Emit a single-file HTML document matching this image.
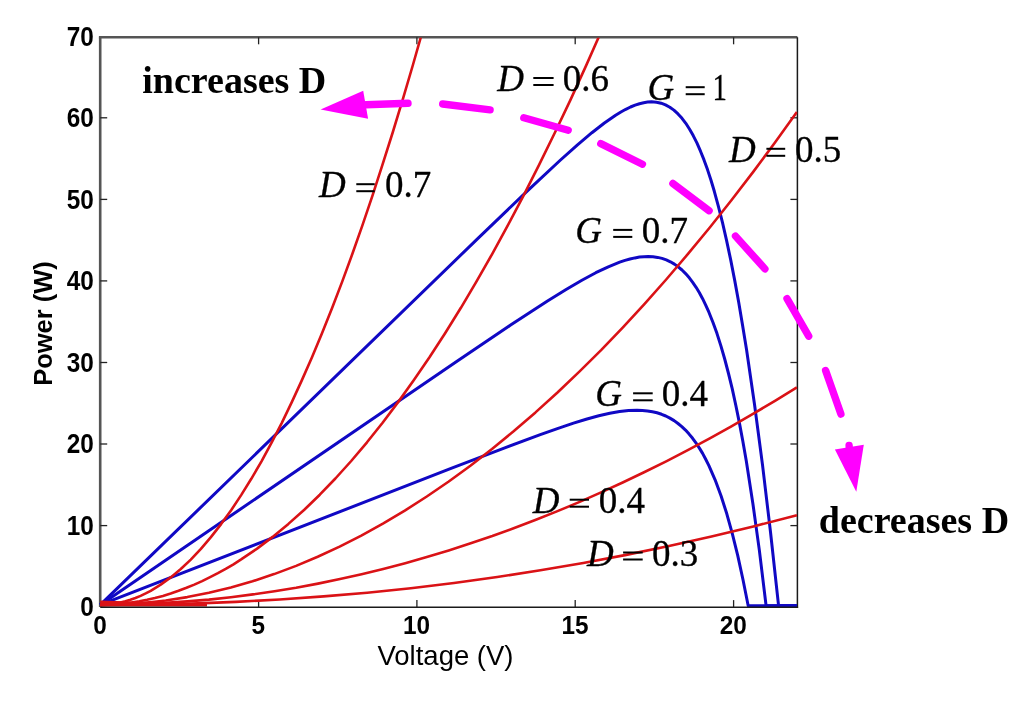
<!DOCTYPE html>
<html><head><meta charset="utf-8"><style>
html,body{margin:0;padding:0;background:#fff;}
svg{display:block;will-change:transform;}
</style></head><body>
<svg width="1024" height="704" viewBox="0 0 1024 704">
<rect width="1024" height="704" fill="#fff"/>
<line x1="100.2" y1="37.3" x2="100.2" y2="607.1" stroke="#555" stroke-width="2.6"/>
<line x1="98.9" y1="37.3" x2="797.4" y2="37.3" stroke="#555" stroke-width="2.4"/>
<line x1="797.4" y1="37.3" x2="797.4" y2="607.9" stroke="#1a1a1a" stroke-width="1.5"/>
<line x1="258.6" y1="607.1" x2="258.6" y2="600.1" stroke="#222" stroke-width="1.3"/>
<line x1="258.6" y1="37.3" x2="258.6" y2="44.3" stroke="#222" stroke-width="1.3"/>
<line x1="416.9" y1="607.1" x2="416.9" y2="600.1" stroke="#222" stroke-width="1.3"/>
<line x1="416.9" y1="37.3" x2="416.9" y2="44.3" stroke="#222" stroke-width="1.3"/>
<line x1="575.2" y1="607.1" x2="575.2" y2="600.1" stroke="#222" stroke-width="1.3"/>
<line x1="575.2" y1="37.3" x2="575.2" y2="44.3" stroke="#222" stroke-width="1.3"/>
<line x1="733.6" y1="607.1" x2="733.6" y2="600.1" stroke="#222" stroke-width="1.3"/>
<line x1="733.6" y1="37.3" x2="733.6" y2="44.3" stroke="#222" stroke-width="1.3"/>
<line x1="100.2" y1="525.6" x2="107.2" y2="525.6" stroke="#222" stroke-width="1.3"/>
<line x1="797.4" y1="525.6" x2="790.4" y2="525.6" stroke="#222" stroke-width="1.3"/>
<line x1="100.2" y1="444.0" x2="107.2" y2="444.0" stroke="#222" stroke-width="1.3"/>
<line x1="797.4" y1="444.0" x2="790.4" y2="444.0" stroke="#222" stroke-width="1.3"/>
<line x1="100.2" y1="362.5" x2="107.2" y2="362.5" stroke="#222" stroke-width="1.3"/>
<line x1="797.4" y1="362.5" x2="790.4" y2="362.5" stroke="#222" stroke-width="1.3"/>
<line x1="100.2" y1="280.9" x2="107.2" y2="280.9" stroke="#222" stroke-width="1.3"/>
<line x1="797.4" y1="280.9" x2="790.4" y2="280.9" stroke="#222" stroke-width="1.3"/>
<line x1="100.2" y1="199.4" x2="107.2" y2="199.4" stroke="#222" stroke-width="1.3"/>
<line x1="797.4" y1="199.4" x2="790.4" y2="199.4" stroke="#222" stroke-width="1.3"/>
<line x1="100.2" y1="117.8" x2="107.2" y2="117.8" stroke="#222" stroke-width="1.3"/>
<line x1="797.4" y1="117.8" x2="790.4" y2="117.8" stroke="#222" stroke-width="1.3"/>
<text transform="translate(93.8,616.3) scale(0.955,1.065)" text-anchor="end" font-family="Liberation Sans" font-weight="bold" font-size="25.5">0</text>
<text transform="translate(93.8,534.8) scale(0.955,1.065)" text-anchor="end" font-family="Liberation Sans" font-weight="bold" font-size="25.5">10</text>
<text transform="translate(93.8,453.2) scale(0.955,1.065)" text-anchor="end" font-family="Liberation Sans" font-weight="bold" font-size="25.5">20</text>
<text transform="translate(93.8,371.7) scale(0.955,1.065)" text-anchor="end" font-family="Liberation Sans" font-weight="bold" font-size="25.5">30</text>
<text transform="translate(93.8,290.1) scale(0.955,1.065)" text-anchor="end" font-family="Liberation Sans" font-weight="bold" font-size="25.5">40</text>
<text transform="translate(93.8,208.6) scale(0.955,1.065)" text-anchor="end" font-family="Liberation Sans" font-weight="bold" font-size="25.5">50</text>
<text transform="translate(93.8,127.0) scale(0.955,1.065)" text-anchor="end" font-family="Liberation Sans" font-weight="bold" font-size="25.5">60</text>
<text transform="translate(93.8,45.5) scale(0.955,1.065)" text-anchor="end" font-family="Liberation Sans" font-weight="bold" font-size="25.5">70</text>
<text transform="translate(99.9,634.2) scale(0.955,1.04)" text-anchor="middle" font-family="Liberation Sans" font-weight="bold" font-size="25.5">0</text>
<text transform="translate(258.2,634.2) scale(0.955,1.04)" text-anchor="middle" font-family="Liberation Sans" font-weight="bold" font-size="25.5">5</text>
<text transform="translate(416.6,634.2) scale(0.955,1.04)" text-anchor="middle" font-family="Liberation Sans" font-weight="bold" font-size="25.5">10</text>
<text transform="translate(575.0,634.2) scale(0.955,1.04)" text-anchor="middle" font-family="Liberation Sans" font-weight="bold" font-size="25.5">15</text>
<text transform="translate(733.3,634.2) scale(0.955,1.04)" text-anchor="middle" font-family="Liberation Sans" font-weight="bold" font-size="25.5">20</text>
<text x="445.5" y="665" text-anchor="middle" font-family="Liberation Sans" font-size="27.5">Voltage (V)</text>
<text transform="translate(51.5,323.5) rotate(-90)" text-anchor="middle" font-family="Liberation Sans" font-weight="bold" font-size="25.5">Power (W)</text>
<defs><clipPath id="cp"><rect x="97.2" y="37.8" width="700.1999999999999" height="571.8000000000001"/></clipPath></defs><g clip-path="url(#cp)">
<path d="M100.2,604.9 477.2,239.1 527.7,190.6 560.5,160.0 577.5,144.8 591.9,132.7 604.4,123.0 615.6,115.2 620.9,112.0 625.8,109.3 630.5,107.0 635.1,105.1 639.5,103.7 643.7,102.7 647.6,102.1 651.6,101.8 656.5,102.2 661.1,103.2 665.5,104.9 669.8,107.2 673.9,110.1 678.0,113.9 682.0,118.3 685.8,123.3 689.6,129.2 693.2,135.6 696.9,142.9 700.5,151.2 704.0,159.9 707.5,169.6 711.0,180.2 714.3,191.3 718.4,206.3 722.5,222.7 726.6,240.7 730.6,259.4 734.7,280.4 738.7,302.2 742.6,325.4 746.6,350.1 754.5,404.2 762.6,465.6 770.5,532.0 778.6,605.8 796.9,605.8" fill="none" stroke="#1008c4" stroke-width="3.0" stroke-linejoin="round"/>
<path d="M100.2,604.9 455.9,362.0 510.6,325.1 547.5,301.0 566.1,289.5 581.9,280.2 595.8,272.7 608.3,266.8 619.7,262.2 625.0,260.4 630.0,259.0 634.9,257.9 639.5,257.1 644.0,256.7 648.2,256.5 653.0,256.7 657.6,257.4 662.0,258.4 666.3,259.9 670.4,261.8 674.4,264.1 678.2,266.8 682.0,270.0 685.6,273.6 689.3,277.8 692.7,282.4 696.1,287.3 699.4,292.8 702.6,298.7 705.7,305.1 708.9,312.2 713.0,322.5 717.0,333.6 720.9,345.9 724.7,359.0 728.5,373.5 732.2,388.6 735.8,405.2 739.3,422.4 742.8,441.0 746.3,461.0 752.9,503.7 759.3,549.9 766.1,605.8 796.9,605.8" fill="none" stroke="#1008c4" stroke-width="3.0" stroke-linejoin="round"/>
<path d="M100.2,604.9 451.7,468.2 504.8,447.9 540.3,434.7 558.1,428.3 573.5,423.2 587.0,419.0 598.8,415.8 609.8,413.3 619.6,411.6 628.6,410.5 637.0,410.2 642.4,410.4 647.5,410.9 652.4,411.7 657.0,412.8 661.6,414.3 665.8,416.0 669.9,418.1 674.1,420.6 678.0,423.5 681.8,426.6 685.5,430.1 689.1,434.1 692.6,438.3 696.1,443.1 699.4,448.1 702.6,453.4 705.7,459.3 708.9,465.6 715.1,479.8 721.1,496.0 726.8,513.8 732.3,533.6 737.7,555.4 742.9,579.2 748.2,605.8 796.9,605.8" fill="none" stroke="#1008c4" stroke-width="3.0" stroke-linejoin="round"/>
<path d="M100.2,604.9 105.2,604.7 110.2,604.3 115.4,603.6 120.4,602.6 125.4,601.3 130.4,599.8 135.4,598.0 140.6,595.9 145.7,593.4 150.7,590.8 160.7,584.6 170.7,577.4 180.8,569.0 190.8,559.6 200.9,548.8 210.9,537.1 221.1,524.1 231.3,510.0 241.3,494.9 251.3,478.8 261.5,461.3 271.6,442.6 281.7,423.1 291.8,402.1 301.8,380.4 312.0,357.2 322.0,333.2 332.2,307.8 342.2,281.6 352.4,253.8 362.4,225.4 372.4,195.9 382.5,164.7 392.7,132.5 402.7,99.6 412.9,65.0 422.9,29.9" fill="none" stroke="#da1216" stroke-width="2.6" stroke-linejoin="round"/>
<path d="M100.2,604.9 108.0,604.7 115.8,604.3 123.8,603.6 131.6,602.6 139.4,601.3 147.1,599.8 154.9,598.0 162.9,595.9 170.7,593.5 178.5,590.8 186.5,587.8 194.3,584.6 202.1,581.1 210.1,577.2 217.9,573.2 225.7,568.9 233.5,564.3 241.5,559.2 257.1,548.6 272.6,536.9 288.4,523.9 304.3,509.8 319.8,494.7 335.4,478.5 351.2,461.0 367.0,442.3 382.6,422.8 398.1,402.1 413.9,380.0 429.5,357.2 445.1,333.2 460.9,307.8 476.4,281.6 492.0,254.3 507.8,225.4 523.4,195.9 539.2,164.7 554.7,133.0 570.6,99.6 586.1,65.6 601.9,29.9" fill="none" stroke="#da1216" stroke-width="2.6" stroke-linejoin="round"/>
<path d="M100.2,604.9 121.8,604.4 132.6,603.8 143.8,602.9 154.6,601.8 165.7,600.5 187.3,597.1 208.9,592.8 230.9,587.5 252.5,581.3 274.1,574.1 296.1,565.9 317.7,556.8 339.6,546.6 361.3,535.6 382.9,523.7 404.8,510.6 426.8,496.5 448.4,481.7 470.4,465.7 492.0,449.0 513.6,431.3 535.5,412.4 557.5,392.5 579.1,371.9 601.1,350.1 622.7,327.6 644.6,303.8 666.2,279.5 688.2,253.7 709.8,227.5 731.4,200.2 753.4,171.6 775.0,142.5 796.9,111.9" fill="none" stroke="#da1216" stroke-width="2.6" stroke-linejoin="round"/>
<path d="M100.2,604.9 121.8,604.6 143.8,604.0 165.4,602.9 187.3,601.4 208.9,599.6 230.9,597.2 252.9,594.4 274.5,591.2 296.1,587.7 318.0,583.6 340.0,579.1 361.6,574.2 383.2,569.0 405.2,563.2 426.8,557.1 448.7,550.4 470.7,543.3 492.3,536.0 514.3,528.0 535.9,519.8 557.5,511.1 579.1,502.1 601.1,492.4 622.7,482.5 644.6,472.0 666.2,461.3 687.8,450.1 709.8,438.3 731.4,426.3 753.4,413.7 775.0,400.8 796.9,387.3" fill="none" stroke="#da1216" stroke-width="2.6" stroke-linejoin="round"/>
<path d="M100.2,604.9 146.2,604.5 191.2,603.6 235.8,601.9 279.7,599.5 323.6,596.4 367.2,592.7 410.8,588.2 454.0,583.0 497.2,577.0 540.4,570.3 583.3,563.0 626.2,554.9 669.0,546.0 711.5,536.5 754.4,526.2 796.9,515.2" fill="none" stroke="#da1216" stroke-width="2.6" stroke-linejoin="round"/>
<polygon points="100.2,600.6 100.2,606.4 207,606.4 207,603.8" fill="#da1216"/>
</g>
<line x1="100.2" y1="607.3000000000001" x2="798.1" y2="607.3000000000001" stroke="#1a1a1a" stroke-width="1.6"/>
<text x="497.3" y="91.1" font-family="Liberation Serif" font-style="italic" font-size="37" stroke="#000" stroke-width="0.3">D</text>
<rect x="533.3" y="77.0" width="20.3" height="2" fill="#000"/>
<rect x="533.3" y="84.0" width="20.3" height="2" fill="#000"/>
<text x="562.8" y="91.1" font-family="Liberation Serif" font-size="37" stroke="#000" stroke-width="0.3">0.6</text>
<text x="647.6" y="100.3" font-family="Liberation Serif" font-style="italic" font-size="37" stroke="#000" stroke-width="0.3">G</text>
<rect x="685.7" y="86.2" width="19.0" height="2" fill="#000"/>
<rect x="685.7" y="93.2" width="19.0" height="2" fill="#000"/>
<text transform="translate(712.6,100.3) scale(0.78,1)" font-family="Liberation Serif" font-size="37" stroke="#000" stroke-width="0.3">1</text>
<text x="728.9" y="161.9" font-family="Liberation Serif" font-style="italic" font-size="37" stroke="#000" stroke-width="0.3">D</text>
<rect x="766.4" y="147.8" width="18.8" height="2" fill="#000"/>
<rect x="766.4" y="154.8" width="18.8" height="2" fill="#000"/>
<text x="795.0" y="161.9" font-family="Liberation Serif" font-size="37" stroke="#000" stroke-width="0.3">0.5</text>
<text x="319.0" y="197.3" font-family="Liberation Serif" font-style="italic" font-size="37" stroke="#000" stroke-width="0.3">D</text>
<rect x="356.3" y="183.2" width="18.4" height="2" fill="#000"/>
<rect x="356.3" y="190.2" width="18.4" height="2" fill="#000"/>
<text x="385.0" y="197.3" font-family="Liberation Serif" font-size="37" stroke="#000" stroke-width="0.3">0.7</text>
<text x="575.2" y="243.0" font-family="Liberation Serif" font-style="italic" font-size="37" stroke="#000" stroke-width="0.3">G</text>
<rect x="613.2" y="228.9" width="19.1" height="2" fill="#000"/>
<rect x="613.2" y="235.9" width="19.1" height="2" fill="#000"/>
<text x="641.8" y="243.0" font-family="Liberation Serif" font-size="37" stroke="#000" stroke-width="0.3">0.7</text>
<text x="595.2" y="406.4" font-family="Liberation Serif" font-style="italic" font-size="37" stroke="#000" stroke-width="0.3">G</text>
<rect x="633.1" y="392.3" width="19.6" height="2" fill="#000"/>
<rect x="633.1" y="399.3" width="19.6" height="2" fill="#000"/>
<text x="661.8" y="406.4" font-family="Liberation Serif" font-size="37" stroke="#000" stroke-width="0.3">0.4</text>
<text x="532.8" y="512.8" font-family="Liberation Serif" font-style="italic" font-size="37" stroke="#000" stroke-width="0.3">D</text>
<rect x="569.7" y="498.7" width="19.3" height="2" fill="#000"/>
<rect x="569.7" y="505.7" width="19.3" height="2" fill="#000"/>
<text x="598.7" y="512.8" font-family="Liberation Serif" font-size="37" stroke="#000" stroke-width="0.3">0.4</text>
<text x="586.9" y="565.6" font-family="Liberation Serif" font-style="italic" font-size="37" stroke="#000" stroke-width="0.3">D</text>
<rect x="623.1" y="551.5" width="19.6" height="2" fill="#000"/>
<rect x="623.1" y="558.5" width="19.6" height="2" fill="#000"/>
<text x="652.1" y="565.6" font-family="Liberation Serif" font-size="37" stroke="#000" stroke-width="0.3">0.3</text>
<text x="142.3" y="93.4" font-family="Liberation Serif" font-weight="bold" font-size="38">increases D</text>
<text x="818.8" y="532.5" font-family="Liberation Serif" font-weight="bold" font-size="38">decreases D</text>
<line x1="366.0" y1="104.8" x2="408.0" y2="103.3" stroke="#ff00ff" stroke-width="7.4" stroke-linecap="round"/>
<line x1="442.7" y1="104.0" x2="490.1" y2="109.8" stroke="#ff00ff" stroke-width="7.4" stroke-linecap="round"/>
<line x1="523.8" y1="117.8" x2="568.2" y2="130.2" stroke="#ff00ff" stroke-width="7.4" stroke-linecap="round"/>
<line x1="600.8" y1="143.6" x2="642.4" y2="164.2" stroke="#ff00ff" stroke-width="7.4" stroke-linecap="round"/>
<line x1="672.9" y1="183.5" x2="709.1" y2="210.7" stroke="#ff00ff" stroke-width="7.4" stroke-linecap="round"/>
<line x1="735.5" y1="236.1" x2="764.9" y2="268.9" stroke="#ff00ff" stroke-width="7.4" stroke-linecap="round"/>
<line x1="787.0" y1="298.6" x2="808.7" y2="336.2" stroke="#ff00ff" stroke-width="7.4" stroke-linecap="round"/>
<line x1="825.6" y1="370.5" x2="840.9" y2="414.1" stroke="#ff00ff" stroke-width="7.4" stroke-linecap="round"/>
<line x1="849.1" y1="445.4" x2="849.5" y2="452.0" stroke="#ff00ff" stroke-width="7.4" stroke-linecap="round"/>
<polygon points="320.6,109.5 363.2,90.8 368.1,118.7" fill="#ff00ff"/>
<polygon points="834.9,449.5 863.8,444.8 856.3,491.7" fill="#ff00ff"/>
</svg>
</body></html>
